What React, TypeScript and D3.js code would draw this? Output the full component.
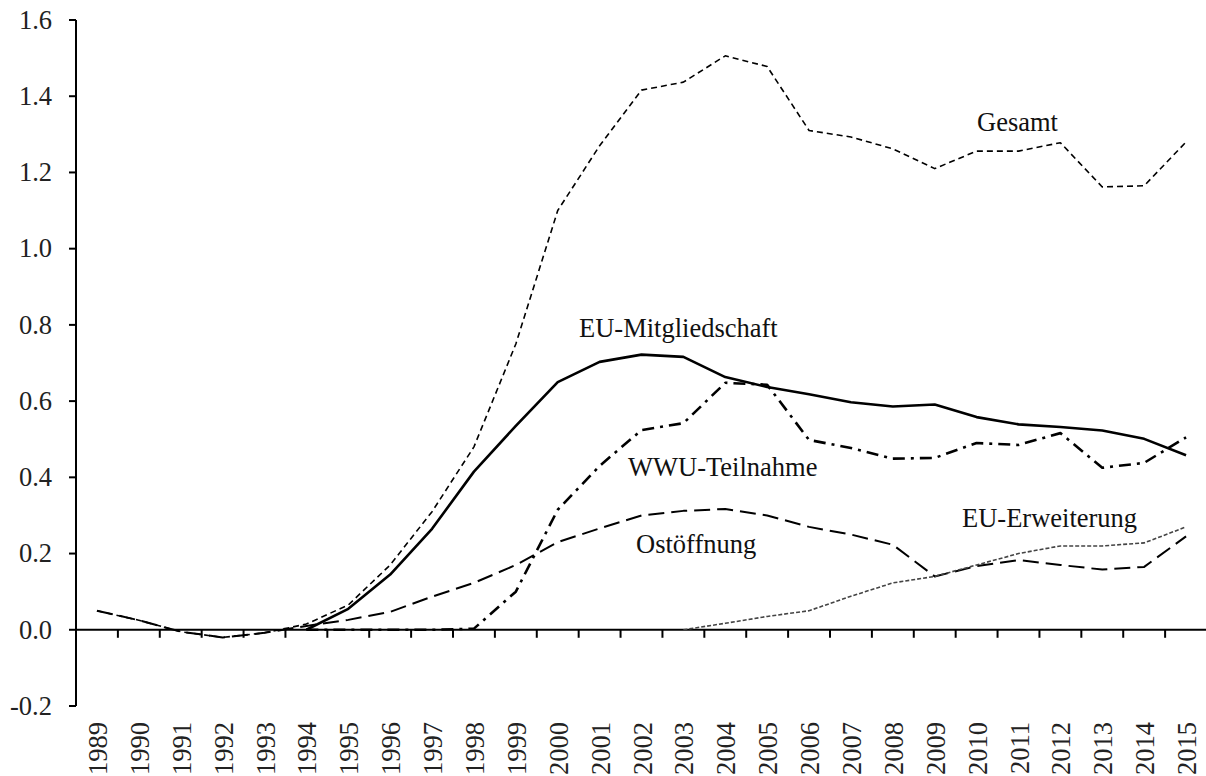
import React from "react";
import * as d3 from "d3";

const years = [1989,1990,1991,1992,1993,1994,1995,1996,1997,1998,1999,2000,2001,2002,2003,2004,2005,2006,2007,2008,2009,2010,2011,2012,2013,2014,2015];

const gesamt = [0.05,0.025,-0.005,-0.02,-0.008,0.015,0.065,0.17,0.31,0.48,0.75,1.10,1.27,1.416,1.437,1.506,1.478,1.31,1.293,1.262,1.21,1.256,1.256,1.278,1.162,1.165,1.28];
const ostoeffnung = [0.05,0.025,-0.005,-0.02,-0.008,0.01,0.026,0.047,0.087,0.123,0.17,0.23,0.266,0.30,0.312,0.317,0.30,0.27,0.25,0.223,0.14,0.167,0.183,0.17,0.158,0.165,0.245];
const mitgliedschaft = [null,null,null,null,null,0.0,0.055,0.145,0.265,0.415,0.535,0.65,0.703,0.722,0.716,0.663,0.637,0.618,0.597,0.586,0.591,0.558,0.539,0.532,0.523,0.501,0.458];
const wwu = [null,null,null,null,null,0.0,0.0,0.0,0.0,0.003,0.1,0.315,0.43,0.524,0.542,0.648,0.643,0.498,0.477,0.449,0.451,0.49,0.485,0.516,0.425,0.438,0.505];
const erweiterung = [null,null,null,null,null,null,null,null,null,null,null,null,null,null,0.0,0.017,0.035,0.05,0.088,0.123,0.14,0.17,0.2,0.22,0.22,0.228,0.27];

const yTicks = [-0.2,0.0,0.2,0.4,0.6,0.8,1.0,1.2,1.4,1.6];

const seriesDefs = [
  { name: "Ostöffnung", values: ostoeffnung, dash: "16,7", width: 2, color: "#000" },
  { name: "Gesamt", values: gesamt, dash: "6,4", width: 1.6, color: "#000" },
  { name: "EU-Mitgliedschaft", values: mitgliedschaft, dash: null, width: 2.6, color: "#000" },
  { name: "WWU-Teilnahme", values: wwu, dash: "12,6,3,6", width: 2.6, color: "#000" },
  { name: "EU-Erweiterung", values: erweiterung, dash: "4,2", width: 1.6, color: "#444" },
];

const labels = [
  { text: "Gesamt", x: 977, y: 131 },
  { text: "EU-Mitgliedschaft", x: 579, y: 337 },
  { text: "WWU-Teilnahme", x: 628, y: 476 },
  { text: "Ostöffnung", x: 636, y: 553 },
  { text: "EU-Erweiterung", x: 962, y: 527 },
];

export default function App() {
  const W = 1206, H = 776;
  const left = 76, right = 1207, top = 20, bottom = 706;
  const x = d3.scaleBand<number>().domain(years).range([left, right]).padding(0);
  const y = d3.scaleLinear().domain([-0.2, 1.6]).range([bottom, top]);
  const cx = (yr: number) => (x(yr) as number) + x.bandwidth() / 2;
  const font = "'Liberation Serif', 'Times New Roman', serif";
  const fs = 26.5;

  const line = d3.line<[number, number | null]>()
    .defined((d) => d[1] !== null)
    .x((d) => cx(d[0]))
    .y((d) => y(d[1] as number));

  const y0 = y(0);

  return (
    <svg width={W} height={H} style={{ position: "absolute", left: 0, top: 0, display: "block", background: "#fff" }}>
      <line x1={left} x2={left} y1={top} y2={bottom} stroke="#000" strokeWidth={2} />
      {yTicks.map((t) => (
        <g key={t}>
          <line x1={left - 7} x2={left} y1={y(t)} y2={y(t)} stroke="#000" strokeWidth={2} />
          <text x={52} y={y(t)} dy="0.33em" textAnchor="end" fontFamily={font} fontSize={fs} fill="#222">
            {t.toFixed(1)}
          </text>
        </g>
      ))}
      <line x1={left} x2={W} y1={y0} y2={y0} stroke="#000" strokeWidth={2} />
      {years.slice(1).map((yr) => (
        <line key={yr} x1={x(yr) as number} x2={x(yr) as number} y1={y0} y2={y0 + 8} stroke="#000" strokeWidth={2} />
      ))}
      {years.map((yr) => (
        <text key={yr} transform={`translate(${cx(yr) + 10},${722}) rotate(-90)`} textAnchor="end"
          fontFamily={font} fontSize={fs} fill="#222">
          {yr}
        </text>
      ))}
      {seriesDefs.map((s) => (
        <path key={s.name}
          d={line(years.map((yr, i) => [yr, s.values[i]] as [number, number | null])) || ""}
          fill="none" stroke={s.color} strokeWidth={s.width}
          strokeDasharray={s.dash || undefined} strokeLinejoin="round" />
      ))}
      {labels.map((l) => (
        <text key={l.text} x={l.x} y={l.y} fontFamily={font} fontSize={fs} fill="#111">{l.text}</text>
      ))}
    </svg>
  );
}
